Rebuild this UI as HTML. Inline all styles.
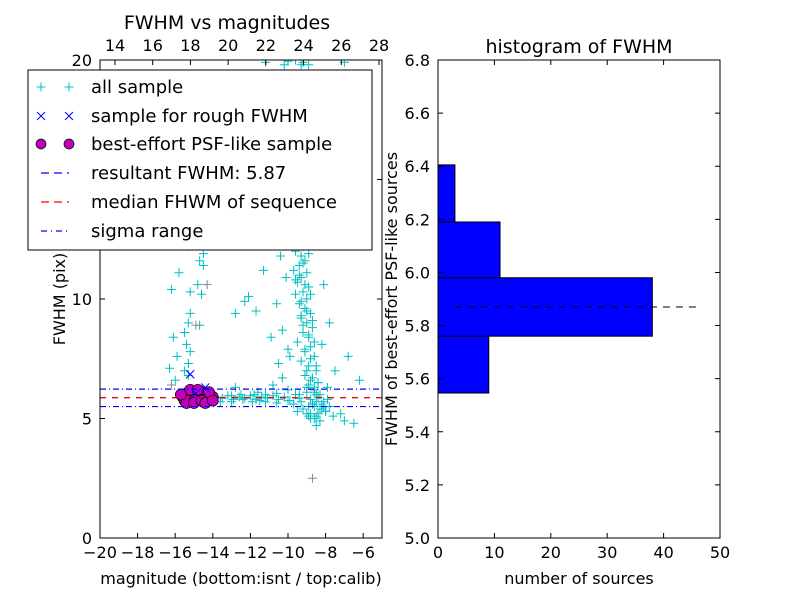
<!DOCTYPE html>
<html><head><meta charset="utf-8"><style>
body{margin:0;background:#fff;}
svg text{font-family:"DejaVu Sans","Liberation Sans",sans-serif;}
</style></head><body>
<svg id="c" width="800" height="600" xmlns="http://www.w3.org/2000/svg"></svg>
<script>
const magAll=[-10.2,-9.6,-9.2,-8.9,-9.3,-9.6,-9.4,-9.1,-9.7,-9.3,-8.9,-9.5,-9.0,-9.8,-9.2,-8.7,
-9.8,-9.5,-9.2,-9.6,-9.3,-9.1,-9.4,-9.7,-9.0,-9.3,-9.5,-8.9,-9.2,-9.6,-9.0,-9.4,-9.1,-8.8,-9.3,-9.0,-8.7,-9.2,-8.9,-9.5,-8.8,-9.1,-8.6,-9.3,-8.9,-8.5,-9.1,-8.8,-8.4,-9.0,-8.6,
-10.8,-11.3,-11.7,-10.4,-10.1,-10.6,-10.9,-10.3,-10.0,-10.5,-9.9,-8.1,-7.8,-8.2,-7.5,-6.8,-6.2,-7.9,-10.3,-11.6,-10.8,-12.1,-12.3,-12.8,-7.9,
-8.6,-8.3,-8.8,-8.0,-7.6,-7.2,-6.5,-8.5,-9.2,-7.0,-8.9,-9.5,
-13.8,-13.5,-13.2,-12.9,-12.6,-12.3,-12.0,-11.7,-11.4,-11.1,-10.8,-10.5,-10.2,-9.9,-9.6,-9.3,-9.0,-8.7,-8.4,-8.1,-7.8,-12.8,-11.2,-10.0,-9.7,-8.9,-13.0,-11.9,-10.6,-9.4,-8.5,-8.2,-12.5,-11.5,
-15.9,-15.6,-15.3,-14.5,-14.7,-15.8,-14.5,-15.2,-14.8,-14.6,-15.2,-15.3,-14.7,-15.5,-16.1,-15.4,-15.2,-15.3,-15.5,-15.3,-16.0,-16.3,-16.2,-15.9,
-11.2,-10.0,-9.3,-7.0,
-9.4,-9.1,-8.8,-9.3,-9.0,-8.7,-9.2,-8.9,-8.6,-9.1,-8.8,-8.5,-9.0,-8.7,-8.4,-8.9,-8.6,-8.3,-8.8,-8.5,-9.2,-8.9,-8.6,-9.4,-9.1,-8.8,-9.5,-9.2,-8.9,-9.6,-9.3,-9.0,-9.7,-9.4,-9.1,-9.5,-9.2,-8.9,-9.6,-9.3,
-8.6,-8.3,-8.0,-8.7,-8.4,-8.1,-8.8,-8.5,-8.2,-9.0,-7.9,-8.6,-9.4,-10.0,-10.6,-11.2,-11.8,-12.4,-13.0,-13.6];
const fwhmAll=[19.8,20,19.9,19.8,19.3,18.6,17.9,17.2,16.6,16.0,15.4,14.9,14.3,13.8,13.3,13.0,
12.5,12.4,12.2,12.0,11.8,11.6,11.4,11.2,11.1,10.9,10.7,10.5,10.3,10.2,10.0,9.8,9.6,9.4,9.2,9.0,8.8,8.6,8.4,8.2,8.0,7.8,7.6,7.4,7.2,7.0,6.8,6.6,6.5,6.3,6.2,
12.8,11.2,9.5,11.8,10.9,9.8,8.4,8.7,7.9,7.3,7.6,10.6,9.0,8.1,7.0,7.6,6.6,6.3,6.7,6.1,6.4,10.1,9.9,9.4,12.6,
5.0,4.9,5.2,5.3,5.1,5.2,4.8,4.7,5.4,4.9,5.1,5.3,
5.9,5.85,5.95,5.8,5.9,5.85,5.95,5.8,5.9,5.85,5.95,5.8,5.9,5.75,6.0,5.7,6.1,5.6,5.9,5.7,5.5,6.3,6.0,6.2,5.6,5.5,5.7,5.7,5.65,5.85,6.0,5.4,6.0,5.75,
12.3,12.5,12.2,11.9,11.6,11.1,11.4,10.3,10.6,10.2,9.4,9.0,8.9,8.6,8.4,8.1,7.8,7.3,7.0,6.8,6.6,7.1,10.4,7.6,
19.9,19.95,19.8,19.9,
11.0,10.6,10.2,9.9,9.5,9.1,8.9,8.5,8.2,7.9,7.5,7.2,7.0,6.7,6.5,6.4,6.1,6.0,5.8,5.7,15.8,15.1,14.6,17.5,16.8,16.2,18.2,13.6,12.9,19.0,18.0,17.0,15.6,14.2,13.1,12.8,11.5,11.9,10.8,9.3,
5.5,5.4,5.3,5.6,5.2,5.5,5.0,5.1,5.6,5.2,5.8,6.3,6.0,5.75,6.05,5.7,6.0,5.8,5.95,5.7];
const magGray=[-8.7,-14.3,-16.2,-9.0,-14.9];
const fwhmGray=[2.5,10.6,6.4,12.4,8.9];
const magRough=[-15.2,-14.4,-14.9];
const fwhmRough=[6.85,6.3,6.05];
const magPsf=[-15.6,-15.4,-15.2,-15.0,-14.8,-14.6,-14.4,-14.2,-14.0,-15.5,-15.3,-15.1,-14.9,-14.7,-14.5,-14.3,-14.1,-15.4,-15.0,-14.6,-14.2,-15.2,-14.8,-14.4,-15.7,-14.0];
const fwhmPsf=[5.9,6.0,5.8,6.1,5.9,6.0,5.8,5.95,5.9,5.75,6.1,5.7,5.85,6.15,5.7,6.05,5.8,5.65,5.65,5.75,6.1,6.2,6.2,5.65,6.0,5.75];
const resultFwhm=5.87, medianFwhm=5.87, sigLo=5.5, sigHi=6.23;
const binLo=[5.546,5.76,5.98,6.19];
const binHi=[5.76,5.98,6.19,6.405];
const binCount=[9,38,11,3];
const xTicks=[-20,-18,-16,-14,-12,-10,-8,-6];
const topTicks=[14,16,18,20,22,24,26,28];
const yTicks=[0,5,10,15,20];
const hxTicks=[0,10,20,30,40,50];
const hyTicks=[5.0,5.2,5.4,5.6,5.8,6.0,6.2,6.4,6.6,6.8];

const svg=document.getElementById('c');const NS='http://www.w3.org/2000/svg';
function el(t,a,p){const e=document.createElementNS(NS,t);for(const k in a)e.setAttribute(k,a[k]);(p||svg).appendChild(e);return e;}
const L={x0:100,x1:382,y0:538,y1:60};
const xs=m=>L.x0+(m+20)/15*(L.x1-L.x0);
const ys=f=>L.y0-f/20*(L.y0-L.y1);
const xt=v=>115+(v-14)/14*(379-115);
const R={x0:438,x1:720,y0:538,y1:60};
const hx=v=>R.x0+v/50*(R.x1-R.x0);
const hy=v=>R.y0-(v-5)/1.8*(R.y0-R.y1);

const clip=el('clipPath',{id:'cl'});el('rect',{x:L.x0,y:L.y1,width:L.x1-L.x0,height:L.y0-L.y1},clip);
const g=el('g',{'clip-path':'url(#cl)'});

function plus(x,y,c,p){const e=el('path',{d:`M${x-4.5},${y}h9M${x},${y-4.5}v9`,stroke:c,'stroke-width':1,fill:'none'},p);return e;}
for(let i=0;i<magAll.length;i++){const e=plus(xs(magAll[i]),ys(fwhmAll[i]),'#00bfbf',g);

}
for(let i=0;i<magGray.length;i++){const e=plus(xs(magGray[i]),ys(fwhmGray[i]),'#888',g);

}
for(let i=0;i<magPsf.length;i++){const e=el('circle',{cx:xs(magPsf[i]),cy:ys(fwhmPsf[i]),r:5.5,fill:'#bf00bf',stroke:'#000','stroke-width':0.7},g);

}
for(let i=0;i<magRough.length;i++){const x=xs(magRough[i]),y=ys(fwhmRough[i]);const e=el('path',{d:`M${x-4},${y-4}l8,8M${x-4},${y+4}l8,-8`,stroke:'#00f','stroke-width':1},g);

}
function hline(v,c,da,n){const e=el('line',{x1:L.x0,x2:L.x1,y1:ys(v),y2:ys(v),stroke:c,'stroke-width':1.2,'stroke-dasharray':da},g);

}
hline(resultFwhm,'#00f','6 6','resultant-fwhm-line');
hline(medianFwhm,'#f00','6 6','median-fwhm-line');
hline(sigLo,'#00f','6 3 1 3','sigma-low-line');
hline(sigHi,'#00f','6 3 1 3','sigma-high-line');

function txt(x,y,s,size,anchor,name,rot){const a={x:x,y:y,'font-size':size,'text-anchor':anchor||'middle'};if(rot)a.transform=`rotate(-90 ${x} ${y})`;const e=el('text',a);e.textContent=s;

return e;}
el('rect',{x:L.x0,y:L.y1,width:L.x1-L.x0,height:L.y0-L.y1,fill:'none',stroke:'#000'});
xTicks.forEach(v=>{const x=xs(v);el('path',{d:`M${x},${L.y0}v-5`,stroke:'#000'});txt(x,L.y0+20,'\u2212'+Math.abs(v),16,'middle','x-tick-label');});
topTicks.forEach(v=>{const x=xt(v);el('path',{d:`M${x},${L.y1}v5`,stroke:'#000'});txt(x,L.y1-9,String(v),16,'middle','top-tick-label');});
yTicks.forEach(v=>{const y=ys(v);el('path',{d:`M${L.x0},${y}h5M${L.x1},${y}h-5`,stroke:'#000'});txt(L.x0-8,y+6,String(v),16,'end','y-tick-label');});
txt(241,584,'magnitude (bottom:isnt / top:calib)',16,'middle','x-axis-title');
txt(227,29,'FWHM vs magnitudes',19,'middle','left-chart-title');
txt(65,299,'FWHM (pix)',16,'middle','y-axis-title',true);

const lg=el('g',{});
el('rect',{x:28,y:70,width:344,height:180,fill:'#fff',stroke:'#000'},lg);
const ly=[87,116,144,173,202,231];
const labs=['all sample','sample for rough FWHM','best-effort PSF-like sample','resultant FWHM: 5.87','median FHWM of sequence','sigma range'];
[41,69].forEach(x=>{plus(x,ly[0],'#00bfbf',lg);el('path',{d:`M${x-4},${ly[1]-4}l8,8M${x-4},${ly[1]+4}l8,-8`,stroke:'#00f'},lg);el('circle',{cx:x,cy:ly[2],r:5,fill:'#bf00bf',stroke:'#000','stroke-width':0.7},lg);});
el('line',{x1:41,x2:69,y1:ly[3],y2:ly[3],stroke:'#00f','stroke-width':1.2,'stroke-dasharray':'8 5'},lg);
el('line',{x1:41,x2:69,y1:ly[4],y2:ly[4],stroke:'#f00','stroke-width':1.2,'stroke-dasharray':'8 5'},lg);
el('line',{x1:41,x2:69,y1:ly[5],y2:ly[5],stroke:'#00f','stroke-width':1.2,'stroke-dasharray':'6 4 1 4'},lg);
labs.forEach((s,i)=>{const t=txt(91,ly[i]+6,s,18,'start','legend-entry');lg.appendChild(t);});

for(let i=0;i<binCount.length;i++){const y1=hy(binHi[i]),y2=hy(binLo[i]);const e=el('rect',{x:R.x0,y:y1,width:hx(binCount[i])-R.x0,height:y2-y1,fill:'#0000ff',stroke:'#000','stroke-width':1});

}
const dl=el('line',{x1:hx(3),x2:hx(46),y1:hy(resultFwhm),y2:hy(resultFwhm),stroke:'#000','stroke-width':1,'stroke-dasharray':'7 6'});

el('rect',{x:R.x0,y:R.y1,width:R.x1-R.x0,height:R.y0-R.y1,fill:'none',stroke:'#000'});
hxTicks.forEach(v=>{const x=hx(v);el('path',{d:`M${x},${R.y0}v-5M${x},${R.y1}v5`,stroke:'#000'});txt(x,R.y0+20,String(v),16,'middle','hist-x-tick-label');});
hyTicks.forEach(v=>{const y=hy(v);el('path',{d:`M${R.x0},${y}h5M${R.x1},${y}h-5`,stroke:'#000'});txt(R.x0-8,y+6,v.toFixed(1),16,'end','hist-y-tick-label');});
txt(579,584,'number of sources',16,'middle','hist-x-axis-title');
txt(579,53,'histogram of FWHM',19,'middle','hist-title');
txt(397,299,'FWHM of best-effort PSF-like sources',16,'middle','hist-y-axis-title',true);
</script>
</body></html>
